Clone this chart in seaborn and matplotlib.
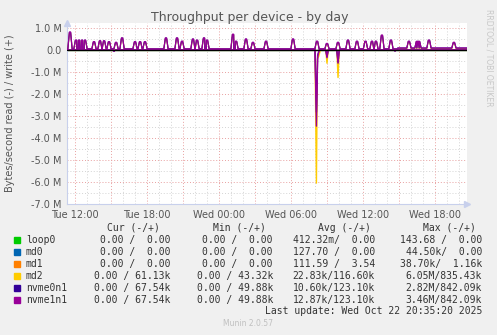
import numpy as np
import pandas as pd
import matplotlib
matplotlib.use("Agg")
import matplotlib.pyplot as plt
import seaborn as sns

# ---------------- data ----------------
devices = ["loop0", "md0", "md1", "md2", "nvme0n1", "nvme1n1"]
colors = ["#00CC00", "#0066B3", "#FF8000", "#FFCC00", "#330099", "#990099"]

# write spikes (hours since Tue 00:00, value in bytes/s)
spike_t = [11.58, 12.08, 12.33, 12.58, 12.83, 13.58, 14.08, 14.42, 14.83, 15.42,
           15.92, 17.0, 17.42, 17.83, 19.58, 20.5, 20.92, 21.83, 22.17, 22.75,
           23.0, 25.17, 25.42, 26.25, 26.83, 27.92, 30.17, 32.17, 33.0, 33.92,
           34.75, 35.5, 36.21, 36.75, 37.08, 37.58, 38.33, 39.83, 40.5, 40.67,
           41.5, 43.58]
spike_nvme1 = [0.82e6, 0.45e6, 0.45e6, 0.45e6, 0.45e6, 0.38e6, 0.42e6, 0.42e6, 0.38e6, 0.35e6,
               0.55e6, 0.38e6, 0.38e6, 0.38e6, 0.55e6, 0.55e6, 0.40e6, 0.50e6, 0.45e6, 0.55e6,
               0.45e6, 0.72e6, 0.40e6, 0.50e6, 0.35e6, 0.40e6, 0.50e6, 0.40e6, 0.30e6, 0.35e6,
               0.45e6, 0.40e6, 0.40e6, 0.40e6, 0.40e6, 0.68e6, 0.45e6, 0.40e6, 0.40e6, 0.40e6,
               0.45e6, 0.35e6]
spike_nvme0 = [0.80e6, 0.44e6, 0.44e6, 0.44e6, 0.44e6, 0.37e6, 0.41e6, 0.41e6, 0.37e6, 0.34e6,
               0.54e6, 0.37e6, 0.37e6, 0.37e6, 0.54e6, 0.54e6, 0.39e6, 0.49e6, 0.44e6, 0.54e6,
               0.44e6, 0.70e6, 0.39e6, 0.49e6, 0.34e6, 0.39e6, 0.49e6, 0.39e6, 0.29e6, 0.34e6,
               0.44e6, 0.39e6, 0.39e6, 0.39e6, 0.39e6, 0.66e6, 0.44e6, 0.39e6, 0.39e6, 0.39e6,
               0.44e6, 0.34e6]
spike_md2 = [0.78e6, 0.42e6, 0.42e6, 0.42e6, 0.42e6, 0.35e6, 0.39e6, 0.39e6, 0.35e6, 0.32e6,
             0.52e6, 0.35e6, 0.35e6, 0.35e6, 0.52e6, 0.52e6, 0.37e6, 0.47e6, 0.42e6, 0.52e6,
             0.42e6, 0.68e6, 0.37e6, 0.47e6, 0.32e6, 0.37e6, 0.47e6, 0.37e6, 0.27e6, 0.32e6,
             0.42e6, 0.37e6, 0.37e6, 0.37e6, 0.37e6, 0.64e6, 0.42e6, 0.37e6, 0.37e6, 0.37e6,
             0.42e6, 0.32e6]
# baseline write level, before / after the level change
base_change_t = 38.9
base_nvme = [0.05e6, 0.09e6]
base_md2 = [0.04e6, 0.065e6]

# read (negative) points: time, value
read_md2_t = [11.33, 32.0, 32.12, 32.2, 32.3, 32.45, 32.9, 33.0, 33.1, 33.82, 33.92, 34.02, 44.67]
read_md2_v = [0, 0, -6.05e6, -0.4e6, -0.3e6, 0, 0, -0.6e6, 0, 0, -1.25e6, 0, 0]
read_nvme1_t = [11.33, 15.15, 15.25, 15.35, 32.0, 32.12, 32.22, 32.35, 32.9, 33.0, 33.1,
                33.82, 33.92, 34.02, 38.57, 38.67, 38.77, 44.67]
read_nvme1_v = [0, 0, -0.06e6, 0, 0, -3.46e6, -0.3e6, 0, 0, -0.35e6, 0,
                0, -0.6e6, 0, 0, -0.05e6, 0, 0]
read_nvme0_v = [0, 0, -0.05e6, 0, 0, -2.82e6, -0.25e6, 0, 0, -0.3e6, 0,
                0, -0.55e6, 0, 0, -0.04e6, 0, 0]

x_ticks = [12, 18, 24, 30, 36, 42]
x_labels = ["Tue 12:00", "Tue 18:00", "Wed 00:00", "Wed 06:00", "Wed 12:00", "Wed 18:00"]
y_ticks = [1e6, 0, -1e6, -2e6, -3e6, -4e6, -5e6, -6e6, -7e6]
y_labels = ["1.0 M", "0.0", "-1.0 M", "-2.0 M", "-3.0 M", "-4.0 M", "-5.0 M", "-6.0 M", "-7.0 M"]
x_start, x_end = 11.33, 44.67

cur_col = ["0.00 /  0.00", "0.00 /  0.00", "0.00 /  0.00", "0.00 / 61.13k", "0.00 / 67.54k", "0.00 / 67.54k"]
min_col = ["0.00 /  0.00", "0.00 /  0.00", "0.00 /  0.00", "0.00 / 43.32k", "0.00 / 49.88k", "0.00 / 49.88k"]
avg_col = ["412.32m/  0.00", "127.70 /  0.00", "111.59 /  3.54", "22.83k/116.60k", "10.60k/123.10k", "12.87k/123.10k"]
max_col = ["143.68 /  0.00", "44.50k/  0.00", "38.70k/  1.16k", "6.05M/835.43k", "2.82M/842.09k", "3.46M/842.09k"]


def write_series(peaks, base):
    t = [x_start]
    v = [base[0]]
    for st, pk in zip(spike_t, peaks):
        b = base[0] if st < base_change_t else base[1]
        t += [st - 0.18, st - 0.05, st + 0.05, st + 0.18]
        v += [b, pk, pk, b]
    t += [base_change_t - 0.05, base_change_t, x_end]
    v += [base[0], base[1], base[1]]
    order = np.argsort(t, kind="stable")
    return np.array(t)[order], np.array(v)[order]


# ---------------- figure ----------------
sns.set_theme(style="white")
plt.rcParams["font.family"] = ["DejaVu Sans"]
W, H = 497, 335
fig = plt.figure(figsize=(W / 100, H / 100), dpi=100, facecolor="#F0F0F0")
ax = fig.add_axes([67 / W, (H - 204) / H, 400 / W, (204 - 22.5) / H])
ax.set_facecolor("white")

# grid
minor_c = "#D4D4D4"
major_c = "#E8A0A0"
dot = (0, (1, 2))
for h in np.arange(12, 45, 1):
    if h % 3 != 0:
        ax.axvline(h, color=minor_c, lw=0.7, ls=dot, zorder=0)
for yv in np.arange(-6.5e6, 1.3e6, 1e6):
    ax.axhline(yv, color=minor_c, lw=0.7, ls=dot, zorder=0)
for h in np.arange(12, 45, 3):
    ax.axvline(h, color=major_c, lw=0.7, ls=dot, zorder=0.5)
for yv in y_ticks:
    ax.axhline(yv, color=major_c, lw=0.7, ls=dot, zorder=0.5)

lw = 0.85
# zero lines for idle devices
for dev, c in zip(devices[:3], colors[:3]):
    sns.lineplot(x=[x_start, x_end], y=[0, 0], color=c, lw=lw, ax=ax,
                 estimator=None, sort=False, zorder=2)

# md2
t, v = write_series(spike_md2, base_md2)
sns.lineplot(x=t, y=v, color=colors[3], lw=lw, ax=ax, estimator=None, sort=False, zorder=3)
sns.lineplot(x=read_md2_t, y=read_md2_v, color=colors[3], lw=1.0, ax=ax,
             estimator=None, sort=False, zorder=3)
# nvme0n1
t, v = write_series(spike_nvme0, base_nvme)
sns.lineplot(x=t, y=v, color=colors[4], lw=lw, ax=ax, estimator=None, sort=False, zorder=4)
sns.lineplot(x=read_nvme1_t, y=read_nvme0_v, color=colors[4], lw=1.0, ax=ax,
             estimator=None, sort=False, zorder=4)
# nvme1n1
t, v = write_series(spike_nvme1, base_nvme)
sns.lineplot(x=t, y=v, color=colors[5], lw=lw, ax=ax, estimator=None, sort=False, zorder=5)
sns.lineplot(x=read_nvme1_t, y=read_nvme1_v, color=colors[5], lw=1.0, ax=ax,
             estimator=None, sort=False, zorder=5)

ax.axhline(0, color="black", lw=0.9, zorder=6)

ax.set_xlim(x_start, x_end)
ax.set_ylim(-7e6, 1.25e6)
ax.set_xticks(x_ticks)
ax.set_xticklabels(x_labels)
ax.set_yticks(y_ticks)
ax.set_yticklabels(y_labels)
ax.set_xticks(np.arange(12, 45, 3), minor=True)
ax.tick_params(axis="both", which="major", labelsize=7, labelcolor="#555555",
               colors=major_c, length=2, width=0.8, pad=2)
ax.tick_params(axis="x", which="minor", colors=major_c, length=2, width=0.8)
ax.tick_params(axis="both", which="major", labelcolor="#555555")
ax.set_xlabel("")
ax.set_ylabel("")
for s in ["top", "right"]:
    ax.spines[s].set_visible(False)
for s in ["left", "bottom"]:
    ax.spines[s].set_color("#C8D0EC")
    ax.spines[s].set_linewidth(0.8)
ax.plot([0], [1.0], marker="^", color="#C8D0EC", markersize=4, transform=ax.transAxes,
        clip_on=False, zorder=10)
ax.plot([1.0], [0], marker=">", color="#C8D0EC", markersize=4, transform=ax.transAxes,
        clip_on=False, zorder=10)

# titles
fig.text(250 / W, 1 - 18 / H, "Throughput per device - by day", ha="center", va="center",
         fontsize=9, color="#555555")
fig.text(10 / W, 1 - 113 / H, "Bytes/second read (-) / write (+)", rotation=90,
         ha="center", va="center", fontsize=7, color="#555555")
fig.text(489 / W, 1 - 58 / H, "RRDTOOL / TOBI OETIKER", rotation=270, ha="center",
         va="center", fontsize=5.5, color="#C8C8C8")

# legend table
mono = "DejaVu Sans Mono"
fs = 7
tc = "#333333"
hy = 1 - 228 / H
fig.text(160 / W, hy, "Cur (-/+)", ha="right", va="center", family=mono, fontsize=fs, color=tc)
fig.text(266 / W, hy, "Min (-/+)", ha="right", va="center", family=mono, fontsize=fs, color=tc)
fig.text(371 / W, hy, "Avg (-/+)", ha="right", va="center", family=mono, fontsize=fs, color=tc)
fig.text(476 / W, hy, "Max (-/+)", ha="right", va="center", family=mono, fontsize=fs, color=tc)
for i, dev in enumerate(devices):
    yy = 1 - (240 + 12 * i) / H
    fig.patches.append(plt.Rectangle((14 / W, yy - 3 / H), 6 / W, 6 / H, color=colors[i],
                                     transform=fig.transFigure, figure=fig))
    fig.text(26 / W, yy, dev, ha="left", va="center", family=mono, fontsize=fs, color=tc)
    fig.text(170 / W, yy, cur_col[i], ha="right", va="center", family=mono, fontsize=fs, color=tc)
    fig.text(273 / W, yy, min_col[i], ha="right", va="center", family=mono, fontsize=fs, color=tc)
    fig.text(375 / W, yy, avg_col[i], ha="right", va="center", family=mono, fontsize=fs, color=tc)
    fig.text(482 / W, yy, max_col[i], ha="right", va="center", family=mono, fontsize=fs, color=tc)
fig.text(482 / W, 1 - 311 / H, "Last update: Wed Oct 22 20:35:20 2025", ha="right",
         va="center", family=mono, fontsize=fs, color=tc)
fig.text(248 / W, 1 - 324 / H, "Munin 2.0.57", ha="center", va="center", fontsize=5.5,
         color="#C0C0C0")

fig.savefig("out.png", dpi=100, facecolor=fig.get_facecolor())
